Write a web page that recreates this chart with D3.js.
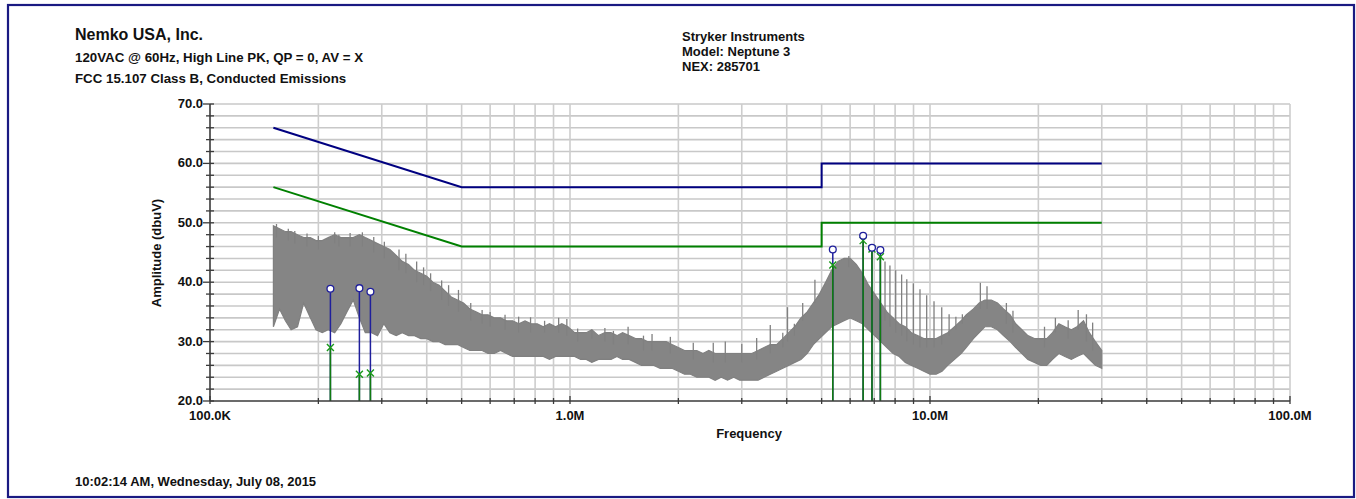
<!DOCTYPE html>
<html>
<head>
<meta charset="utf-8">
<script src="https://cdn.jsdelivr.net/npm/d3@7/dist/d3.min.js"></script>
<style>
  html, body { margin: 0; padding: 0; background: #fff; }
  svg text { font-family: "Liberation Sans", Arial, sans-serif; font-weight: bold; fill: #111; }
</style>
</head>
<body>
<svg id="chart" width="1356" height="499"></svg>
<script>
// ---------- DATA ----------
const headerLeft = ["Nemko USA, Inc.", "120VAC @ 60Hz, High Line PK, QP = 0, AV = X", "FCC 15.107 Class B, Conducted Emissions"];
const headerRight = ["Stryker Instruments", "Model: Neptune 3", "NEX: 285701"];
const footerText = "10:02:14 AM, Wednesday, July 08, 2015";
const yTitle = "Amplitude (dbuV)";
const xTitle = "Frequency";

const yTickValues = [20, 30, 40, 50, 60, 70];
const xTickValues = [0.1, 1, 10, 100];            // MHz
const xTickLabels = ["100.0K", "1.0M", "10.0M", "100.0M"];

// limit lines (MHz, dBuV)
const limitFreq = [0.15, 0.5, 5, 5, 30];
const qpLimit   = [66, 56, 56, 60, 60];
const avLimit   = [56, 46, 46, 50, 50];

// measured markers
const markerFreq = [0.216, 0.260, 0.279, 5.37, 6.52, 6.90, 7.28];
const markerQP   = [38.9, 39.0, 38.4, 45.5, 47.8, 45.8, 45.4];
const markerAV   = [29.0, 24.5, 24.7, 42.9, 47.0, 45.6, 44.3];

// peak scan trace envelope (MHz, upper dBuV, lower dBuV)
const traceFreq = [0.150,0.156,0.162,0.168,0.175,0.182,0.190,0.197,0.205,0.213,0.222,0.231,0.240,0.250,0.260,0.270,0.281,0.292,0.304,0.316,0.329,0.342,0.356,0.370,0.385,0.400,0.416,0.433,0.450,0.468,0.487,0.506,
  0.527,0.548,0.570,0.592,0.616,0.641,0.666,0.693,0.721,0.750,0.780,0.811,0.843,0.877,0.912,0.949,0.987,1.03,1.07,1.11,1.15,1.20,1.25,1.30,1.35,1.40,1.46,1.52,1.58,1.64,1.71,1.78,1.85,1.92,
  2.00,2.08,2.16,2.25,2.34,2.43,2.53,2.63,2.74,2.85,2.96,3.08,3.20,3.33,3.46,3.60,3.75,3.90,4.05,4.21,4.38,4.56,4.74,4.93,5.13,5.33,5.55,5.77,6.00,6.24,6.49,6.75,7.02,7.30,7.59,7.90,8.21,8.54,8.88,9.24,9.61,
  10.0,10.4,10.8,11.2,11.7,12.2,12.6,13.2,13.7,14.2,14.8,15.4,16.0,16.7,17.3,18.0,18.7,19.5,20.3,21.1,21.9,22.8,23.7,24.7,25.6,26.7,27.7,28.8,30.0];
const traceHigh = [49.5,49,48.5,48.5,48,47.5,47.5,47,47,47.5,48,47.5,47.5,47.5,48,47.5,47,46.5,46,45.5,44.5,43.5,43,42,41.5,41,40,39.5,38.5,37.5,37,36.5,
  35.5,35,34.5,34.5,34,34,33.5,33.5,33,33.5,33,33,32.5,33,32.5,33,32.5,31.5,31.5,31.5,32,31,31.5,31.5,31,31.5,31,30.5,30.5,30,30,30,30,29.5,
  29,28.5,28.5,28.5,28,28.5,28,28,28,28,28,28,28,28.5,29,29.5,29.5,30.5,31.5,32.5,34,35,36.5,38,40,42,43.5,44,44,43,41.5,39.5,38,36.5,35,34,33,32.5,31.5,31,30.5,
  30.5,30.5,31,31.5,32.5,33.5,34.5,35.5,36.5,37,37,36.5,35.5,34.5,33,32,31,30.5,30.5,30.5,31.5,33,32.5,32,32.5,33.5,31.5,30,28.5];
const traceLow = [32.5,35.5,33.5,32,32.5,36.5,34,32,31.5,32,31.5,33,35,37,34,31.5,31.5,31,33,31.5,31,31.5,31,31,30.5,30.5,30,30,29.5,29.5,29.5,29,
  28.5,28.5,28.5,28,28,28.5,28,27.5,27.5,27.5,27.5,27.5,27.5,27,27.5,27.5,27.5,27.5,27,27,26.5,27,27,27,27.5,27,27,26.5,26,26,26,25.5,25.5,25.5,
  25,24.5,24.5,24,24,24,23.5,24,23.5,24,23.5,23.5,23.5,23.5,24,24.5,25,25.5,26,26.5,27,28,29.5,30.5,31.5,32.5,33,33.5,34,33.5,33,32,31,30,29,28,27.5,26.5,26,25.5,25,
  24.5,24.5,25,26,27,28,29,30.5,31.5,32.5,32.5,32,31,30,29,28,27,26.5,26,26,27,28,27.5,27,27.5,28,27,26,25.5];

// isolated spikes above the band (MHz, top dBuV)
const spikeFreq = [0.153,0.165,0.172,0.186,0.200,0.222,0.228,0.245,0.265,0.285,0.305,0.335,0.350,0.375,0.392,0.410,0.440,0.460,0.490,
  0.530,0.570,0.600,0.660,0.720,0.777,0.850,0.930,0.980,1.05,1.15,1.25,1.32,1.45,1.60,1.69,1.90,2.20,2.50,2.70,3.00,3.30,3.60,3.90,4.02,4.20,4.43,4.79,
  5.95,7.50,7.74,8.03,8.34,8.62,8.99,9.38,9.79,10.26,10.78,11.3,11.8,12.3,13.8,14.4,16.3,17.0,20.8,22.3,24.2,25.8,27.2,28.3];
const spikeTop  = [49.8,49.0,48.6,48.2,47.8,48.4,48.0,48.3,48.4,47.6,46.8,45.5,44.8,43.5,42.5,41.5,40.3,39.5,38.7,
  36.5,35.3,35.0,34.5,34.2,34.1,33.5,34.0,33.8,32.2,32.0,32.3,31.8,32.5,31.0,31.3,30.8,29.8,29.8,30.0,29.6,30.6,32.8,31.5,35.8,33.0,36.5,40.4,
  44.4,43.5,42.8,42.0,41.3,40.5,39.8,38.8,37.8,36.8,35.8,34.6,34.2,34.6,39.9,39.3,36.5,35.2,32.5,34.0,33.6,35.3,34.6,33.2];

// ---------- DRAW ----------
const svg = d3.select("#chart");
const pL = 210, pR = 1290, pT = 104, pB = 401;
const x = d3.scaleLog().domain([0.1, 100]).range([pL, pR]);
const y = d3.scaleLinear().domain([20, 70]).range([pB, pT]);

// frame
svg.append("rect").attr("x", 8).attr("y", 5).attr("width", 1346).attr("height", 492)
  .attr("fill", "none").attr("stroke", "#1a1a82").attr("stroke-width", 2.2);

// grid
const hGrid = d3.range(22, 71, 2);
const vGrid = [];
[0.1, 1, 10].forEach(d => { for (let k = 2; k <= 10; k++) vGrid.push(d * k); });
svg.append("g").selectAll("line").data(hGrid).join("line")
  .attr("x1", pL).attr("x2", pR).attr("y1", d => y(d)).attr("y2", d => y(d))
  .attr("stroke", "#c8c8c8").attr("stroke-width", 1.6);
svg.append("g").selectAll("line").data(vGrid).join("line")
  .attr("x1", d => x(d)).attr("x2", d => x(d)).attr("y1", pT).attr("y2", pB)
  .attr("stroke", "#cdcdcd").attr("stroke-width", 1.6);

// trace
const trace = traceFreq.map((f, i) => ({ f, hi: traceHigh[i], lo: traceLow[i] }));
const area = d3.area().x(d => x(d.f)).y0(d => y(d.lo)).y1(d => y(d.hi));
svg.append("path").datum(trace).attr("d", area)
  .attr("fill", "#858585").attr("stroke", "#808080").attr("stroke-width", 1.2).attr("stroke-linejoin", "miter");
const spikes = spikeFreq.map((f, i) => ({ f, t: spikeTop[i] }));
svg.append("g").selectAll("line").data(spikes).join("line")
  .attr("x1", d => x(d.f)).attr("x2", d => x(d.f))
  .attr("y1", d => {
    const idx = Math.min(d3.bisectLeft(traceFreq, d.f), traceFreq.length - 1);
    return y(Math.min(traceHigh[idx], d.t) - 1.5);
  })
  .attr("y2", d => y(d.t))
  .attr("stroke", "#808080").attr("stroke-width", 1.3);

// limits
const lim = (vals) => limitFreq.map((f, i) => [f, vals[i]]);
const ln = d3.line().x(d => x(d[0])).y(d => y(d[1]));
svg.append("path").attr("d", ln(lim(qpLimit))).attr("fill", "none").attr("stroke", "#000080").attr("stroke-width", 2);
svg.append("path").attr("d", ln(lim(avLimit))).attr("fill", "none").attr("stroke", "#008000").attr("stroke-width", 2);

// markers
const markers = markerFreq.map((f, i) => ({ f, qp: markerQP[i], av: markerAV[i] }));
const mg = svg.append("g");
mg.selectAll(".qpl").data(markers).join("line")
  .attr("x1", d => x(d.f)).attr("x2", d => x(d.f)).attr("y1", pB).attr("y2", d => y(d.qp))
  .attr("stroke", "#1f1f9c").attr("stroke-width", 1.5);
mg.selectAll(".avl").data(markers).join("line")
  .attr("x1", d => x(d.f)).attr("x2", d => x(d.f)).attr("y1", pB).attr("y2", d => y(d.av))
  .attr("stroke", "#117a11").attr("stroke-width", 1.6);
const s = 3.5;
mg.selectAll(".avx").data(markers).join("path")
  .attr("d", d => { const cx = x(d.f), cy = y(d.av);
    return `M${cx - s},${cy - s}L${cx + s},${cy + s}M${cx - s},${cy + s}L${cx + s},${cy - s}`; })
  .attr("stroke", "#1a9a1a").attr("stroke-width", 1.4).attr("fill", "none");
mg.selectAll(".qpc").data(markers).join("circle")
  .attr("cx", d => x(d.f)).attr("cy", d => y(d.qp)).attr("r", 3.4)
  .attr("fill", "#fff").attr("stroke", "#1f1f9c").attr("stroke-width", 1.3);

// axes
const ax = svg.append("g").attr("stroke", "#3a3a3a");
ax.append("line").attr("x1", pL).attr("x2", pL).attr("y1", pT).attr("y2", pB).attr("stroke-width", 1.6);
ax.append("line").attr("x1", pL).attr("x2", pR).attr("y1", pB).attr("y2", pB).attr("stroke-width", 1.6);
const yMinor = d3.range(20, 71, 2);
ax.selectAll(".yt").data(yMinor).join("line")
  .attr("x1", d => yTickValues.includes(d) ? pL - 7 : pL - 4).attr("x2", pL + 4)
  .attr("y1", d => y(d)).attr("y2", d => y(d)).attr("stroke-width", 1.3);
const xMinor = [0.1, ...vGrid];
ax.selectAll(".xt").data(xMinor).join("line")
  .attr("x1", d => x(d)).attr("x2", d => x(d))
  .attr("y1", d => xTickValues.some(v => Math.abs(v - d) < 1e-9) ? pB - 5 : pB - 3)
  .attr("y2", pB + 3).attr("stroke-width", 1.3);

svg.append("g").selectAll("text").data(yTickValues).join("text")
  .attr("x", 203).attr("y", d => y(d) + 4).attr("text-anchor", "end")
  .attr("font-size", 13).text(d => d.toFixed(1));
svg.append("g").selectAll("text").data(xTickValues).join("text")
  .attr("x", d => x(d)).attr("y", 419.5).attr("text-anchor", "middle")
  .attr("font-size", 13).text((d, i) => xTickLabels[i]);

svg.append("text").attr("x", 749).attr("y", 438).attr("text-anchor", "middle").attr("font-size", 13).text(xTitle);
svg.append("text").attr("transform", "translate(161,253) rotate(-90)").attr("text-anchor", "middle").attr("font-size", 13).text(yTitle);

// headers
svg.append("text").attr("x", 75).attr("y", 40).attr("font-size", 16).text(headerLeft[0]);
svg.append("text").attr("x", 75).attr("y", 62).attr("font-size", 13.3).text(headerLeft[1]);
svg.append("text").attr("x", 75).attr("y", 83).attr("font-size", 13.3).text(headerLeft[2]);
headerRight.forEach((t, i) => svg.append("text").attr("x", 682).attr("y", 41 + i * 15).attr("font-size", 13).text(t));
svg.append("text").attr("x", 75).attr("y", 486).attr("font-size", 13).text(footerText);
</script>
</body>
</html>
